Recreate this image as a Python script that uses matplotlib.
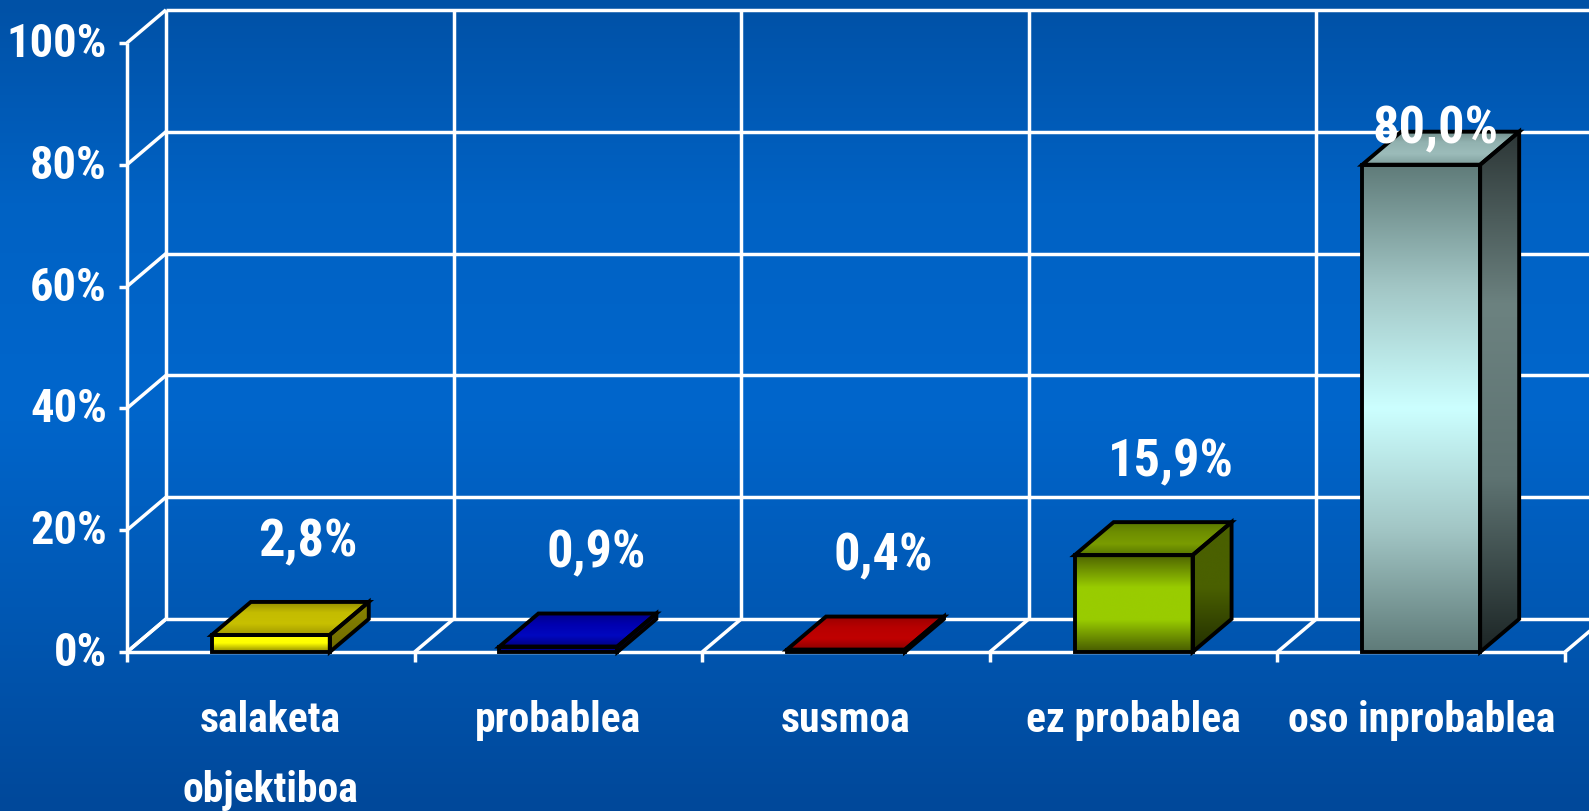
import numpy as np
import matplotlib
matplotlib.use("Agg")
import matplotlib.pyplot as plt
from matplotlib import font_manager
from matplotlib.patches import Polygon
from matplotlib.colors import LinearSegmentedColormap

# data
categories = ['salaketa\nobjektiboa', 'probablea', 'susmoa', 'ez probablea', 'oso inprobablea']
values = [2.8, 0.9, 0.4, 15.9, 80.0]
value_labels = ['2,8%', '0,9%', '0,4%', '15,9%', '80,0%']
y_ticks = [0, 20, 40, 60, 80, 100]
y_tick_labels = ['0%', '20%', '40%', '60%', '80%', '100%']

# face colours per bar: front, top, side (gradient stops, bottom -> top)
front_colors = [
    ['#8A8400', '#FFFF00', '#FFFF00'],
    ['#00007A', '#0000A8'],
    ['#900000', '#C00000'],
    ['#465A00', '#99CC00', '#99CC00', '#4E6400'],
    ['#5F7B79', '#A2C6C5', '#CCFFFF', '#A2C6C5', '#5F7B79'],
]
top_colors = [
    ['#A09800', '#C8C000', '#C4BC00', '#8E8800'],
    ['#00007E', '#0008C0', '#0000B0', '#000088'],
    ['#8A0000', '#C00000', '#B80000', '#980000'],
    ['#587800', '#7A9C00', '#6E8E00', '#567400'],
    ['#7E9E9C', '#9CBCBA', '#92B2B0', '#6E8C8A'],
]
side_colors = [
    ['#6E6A00', '#8A8400'],
    ['#000060', '#000090'],
    ['#700000', '#900000'],
    ['#222E00', '#4A6000', '#4A6000'],
    ['#1C2525', '#5E7372', '#6C8280', '#2C3636'],
]

# pick a narrow bold face if one is installed
installed = {f.name for f in font_manager.fontManager.ttflist}
FONT = 'DejaVu Sans'
for name in ['Liberation Sans Narrow', 'Roboto Condensed', 'Open Sans Condensed',
             'DejaVu Sans Condensed', 'Roboto', 'Liberation Sans']:
    if name in installed:
        FONT = name
        break

DX = 0.1356   # depth offset in category units
DY = 5.42     # depth offset in percent units
BAR_W = 0.41
LABEL_CAP = 86.0

fig = plt.figure(figsize=(15.89, 8.12), dpi=100)
ax = fig.add_axes([0, 0, 1, 1])
ax.axis('off')
xlim = (-0.4416, 5.0834)
ylim = (-26.1, 107.2)
renderer = fig.canvas.get_renderer()


def fit_size(sample, width_px, max_size):
    t = fig.text(0, 0, sample, fontsize=20, fontweight='bold', family=FONT)
    w = t.get_window_extent(renderer).width
    t.remove()
    return min(max_size, 20 * width_px / w)


size_y = fit_size('100%', 100, 34)
size_val = fit_size('15,9%', 126, 38)
size_cat = fit_size('oso inprobablea', 272, 30)

# background gradient
bg = LinearSegmentedColormap.from_list('bg', ['#00489A', '#0058B4', '#0066CC', '#0062C4', '#0051A6'])
ax.imshow(np.linspace(0, 1, 256).reshape(-1, 1), extent=(*xlim, *ylim), origin='lower',
          cmap=bg, aspect='auto', zorder=0, interpolation='bicubic')


def shaded(xy, stops, z):
    poly = Polygon(xy, closed=True, facecolor='none', edgecolor='black', lw=2.8,
                   joinstyle='miter', zorder=z + 1)
    ax.add_patch(poly)
    xs = [p[0] for p in xy]
    ys = [p[1] for p in xy]
    cmap = LinearSegmentedColormap.from_list('f', stops)
    im = ax.imshow(np.linspace(0, 1, 256).reshape(-1, 1),
                   extent=(min(xs), max(xs), min(ys), max(ys)), origin='lower',
                   cmap=cmap, aspect='auto', zorder=z, interpolation='bicubic')
    im.set_clip_path(poly)


grid = dict(color='white', lw=2.5, solid_capstyle='butt', zorder=2)
n = len(categories)

# walls and floor
for v in y_ticks:
    ax.plot([DX, n + DX], [v + DY, v + DY], **grid)
    ax.plot([0, DX], [v, v + DY], **grid)
    ax.plot([-0.028, 0], [v, v], **grid)
for k in range(n + 1):
    ax.plot([k + DX, k + DX], [DY, 100 + DY], **grid)
    ax.plot([k, k + DX], [0, DY], **grid)
    ax.plot([k, k], [0, -1.7], **grid)
ax.plot([0, 0], [0, 100], **grid)
ax.plot([0, n], [0, 0], **grid)

# bars
for i, v in enumerate(values):
    x0 = i + 0.5 - BAR_W / 2
    x1 = i + 0.5 + BAR_W / 2
    shaded([(x0, 0), (x1, 0), (x1, v), (x0, v)], front_colors[i], 5)
    shaded([(x0, v), (x1, v), (x1 + DX, v + DY), (x0 + DX, v + DY)], top_colors[i], 5)
    shaded([(x1, 0), (x1 + DX, DY), (x1 + DX, v + DY), (x1, v)], side_colors[i], 5)
    ly = v + 15.4
    lx = i + 0.5 + 0.13
    if ly > LABEL_CAP:   # label pushed down onto the bar top
        ly, lx = LABEL_CAP, i + 0.5 + 0.05
    ax.text(lx, ly, value_labels[i], color='white', fontsize=size_val, fontweight='bold',
            family=FONT, ha='center', va='center', zorder=10)

# y labels
for v, lab in zip(y_ticks, y_tick_labels):
    ax.text(-0.07, v, lab, color='white', fontsize=size_y, fontweight='bold', family=FONT,
            ha='right', va='center', zorder=10)

# category labels
for i, cat in enumerate(categories):
    for j, line in enumerate(cat.split('\n')):
        ax.text(i + 0.5, -13.0 - 11.5 * j, line, color='white', fontsize=size_cat,
                fontweight='bold', family=FONT, ha='center', va='baseline', zorder=10)

ax.set_xlim(*xlim)
ax.set_ylim(*ylim)
fig.savefig('out.png', dpi=100)
